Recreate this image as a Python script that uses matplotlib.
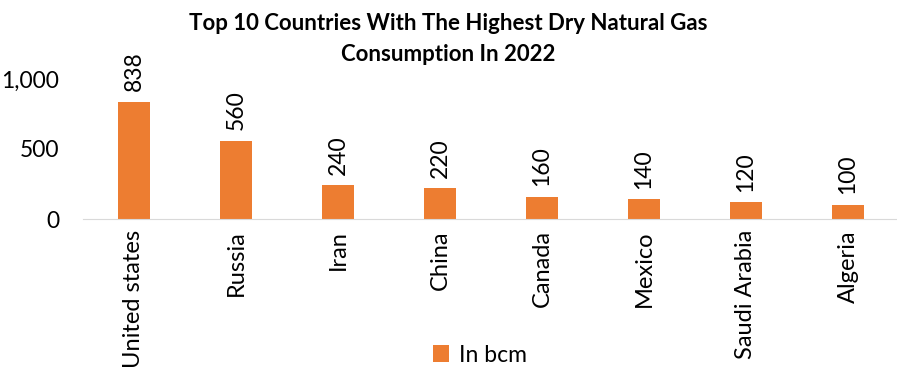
import matplotlib.pyplot as plt

# 数据
countries = ["United states", "Russia", "Iran", "China", "Canada", "Mexico", "Saudi Arabia", "Algeria"]
consumption = [838, 560, 240, 220, 160, 140, 120, 100]

plt.rcParams['font.family'] = ['Lato', 'DejaVu Sans']

fig = plt.figure(figsize=(8.97, 3.82), dpi=100)
ax = fig.add_axes([83 / 897, 1 - 219 / 382, 816 / 897, 140 / 382])

x = range(len(countries))
bars = ax.bar(x, consumption, width=0.31, color='#ED7D31', label='In bcm')

# 数值标签
for xi, v in zip(x, consumption):
    ax.text(xi, v + 75, f"{v}", rotation=90, ha='center', va='bottom',
            fontsize=16.5, clip_on=False)

ax.set_xlim(-0.5, len(countries) - 0.5)
ax.set_ylim(0, 1000)
ax.set_yticks([0, 500, 1000])
ax.set_yticklabels(["0", "500", "1,000"], fontsize=16.5)
ax.set_xticks(list(x))
ax.set_xticklabels(countries, rotation=90, fontsize=17)
ax.tick_params(length=0)
ax.tick_params(axis='y', pad=17)
ax.tick_params(axis='x', pad=8)

for s in ['top', 'right', 'left']:
    ax.spines[s].set_visible(False)
ax.spines['bottom'].set_color('#d9d9d9')

fig.text(0.5, 0.897, "Top 10 Countries With The Highest Dry Natural Gas\nConsumption In 2022",
         ha='center', va='center', fontsize=16, fontweight='bold', linespacing=1.6)

fig.legend(loc='center', bbox_to_anchor=(480 / 897, 1 - 355 / 382), frameon=False,
           fontsize=16.5, handlelength=0.7, handleheight=0.7, handletextpad=0.4)

fig.savefig('out.png', dpi=100)
